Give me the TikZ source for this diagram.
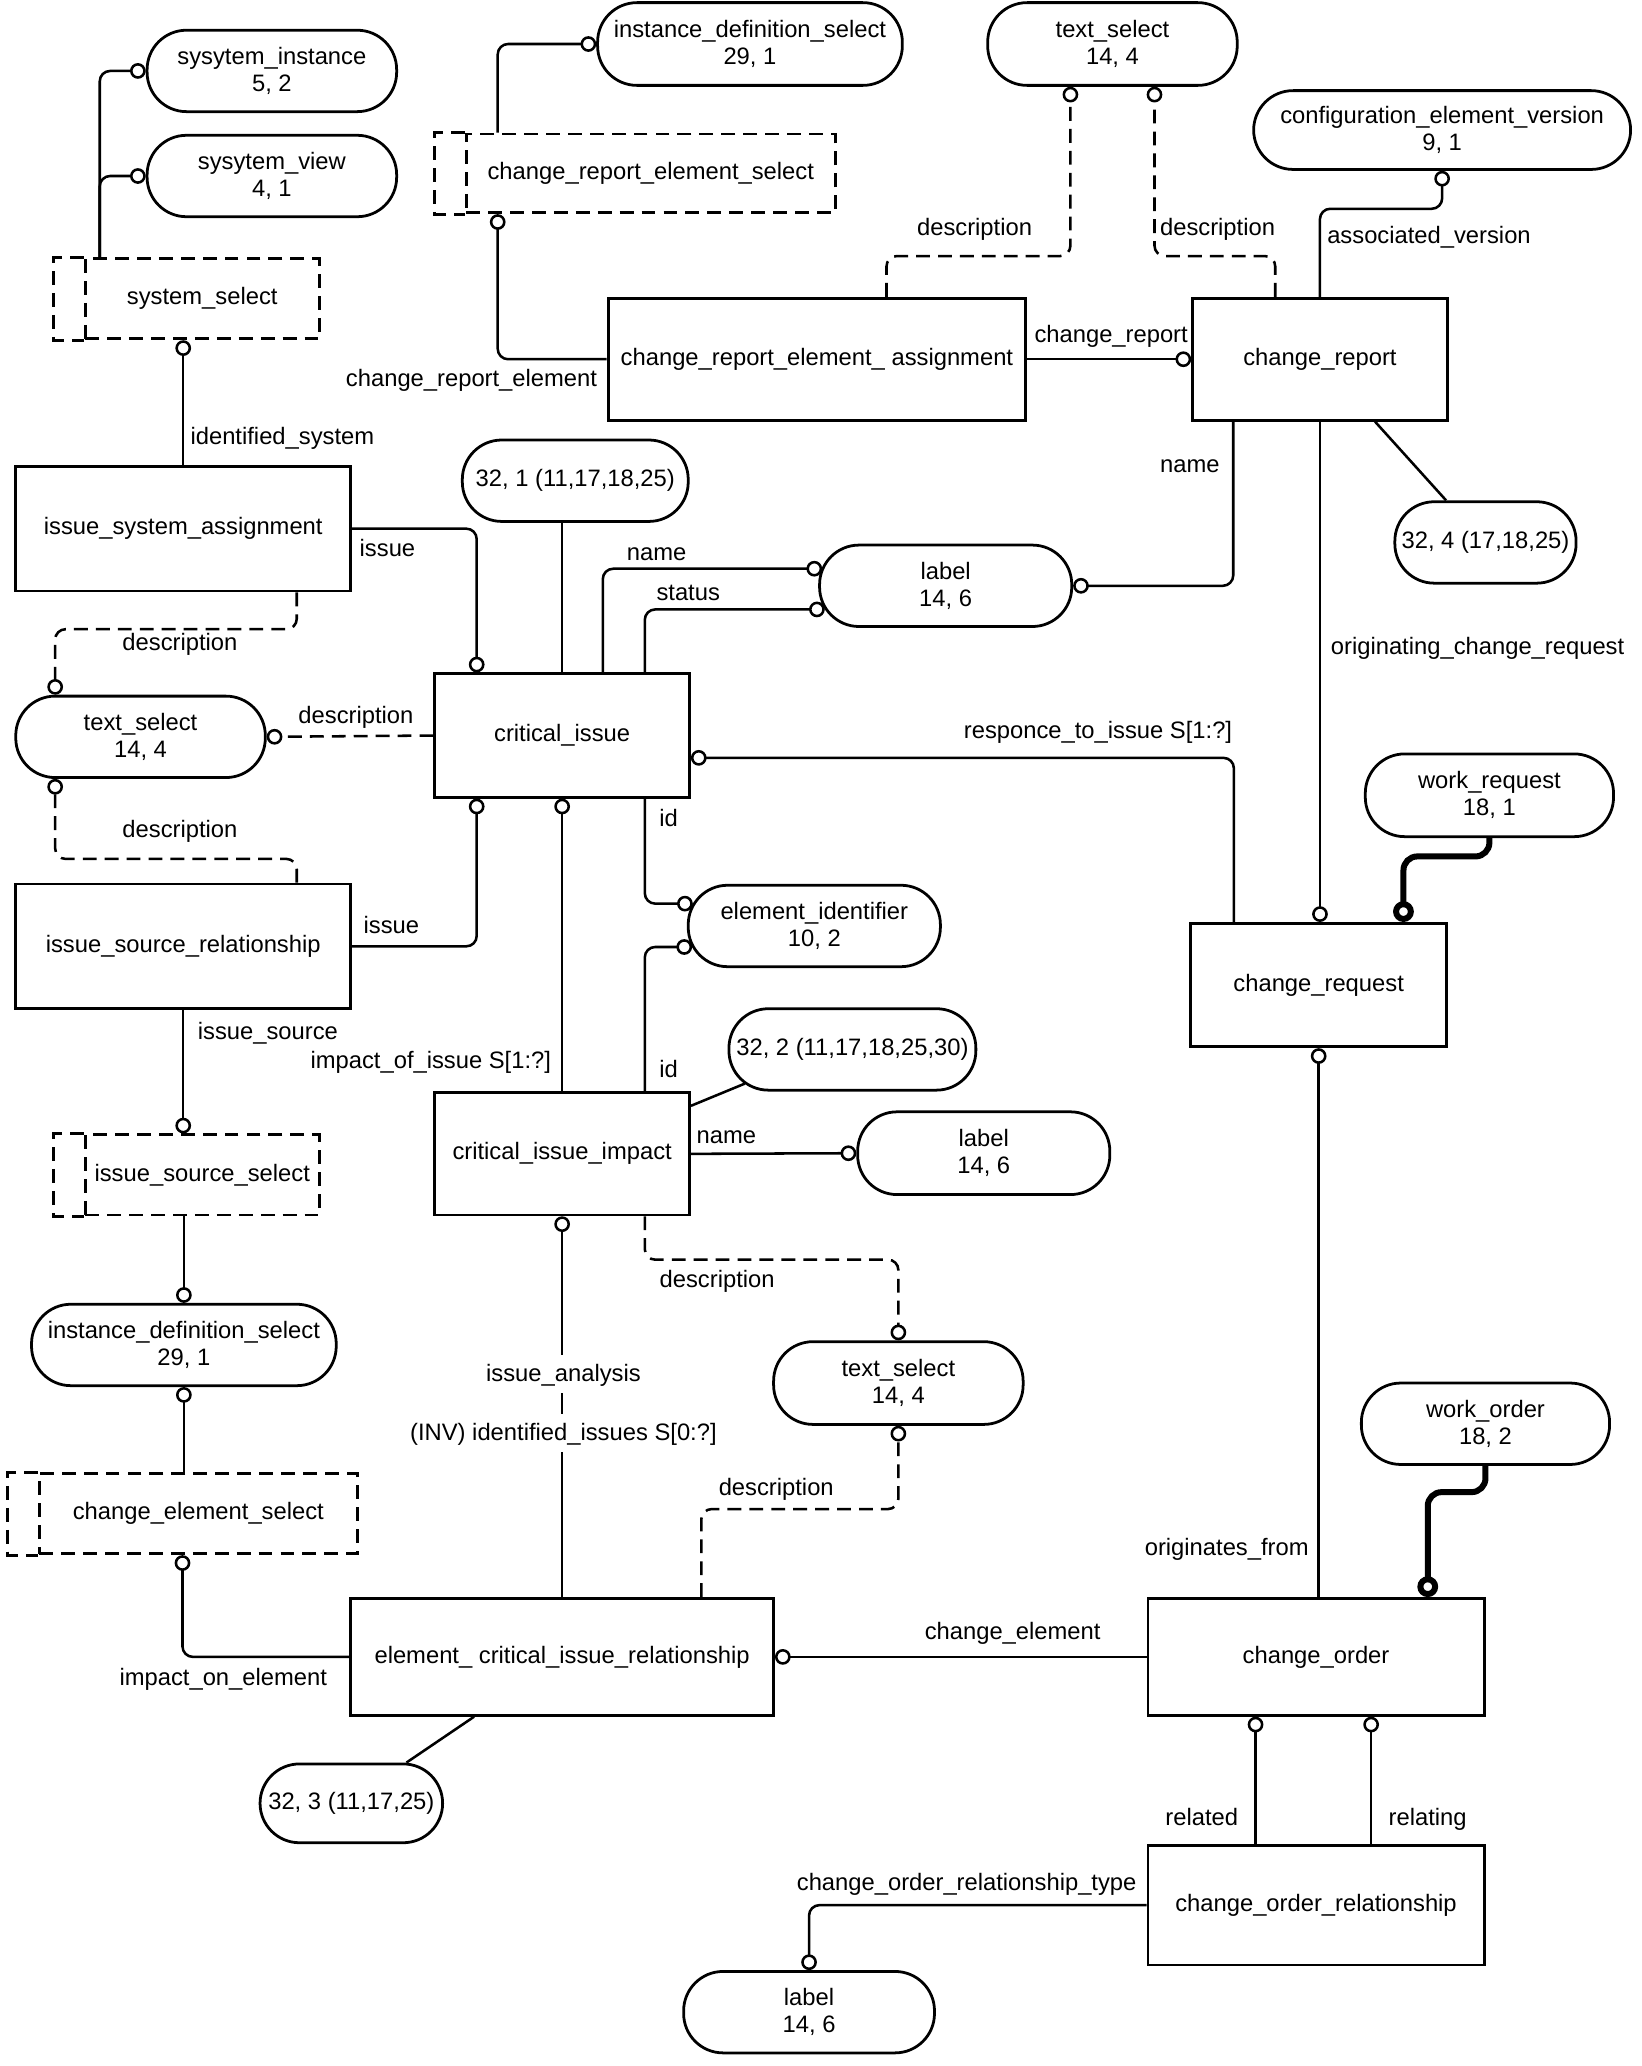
\documentclass[tikz,border=0pt]{standalone}
\usepackage{fontspec}
\setmainfont{Liberation Sans}
\usetikzlibrary{arrows.meta}
\newlength\ux
\setlength\ux{0.02cm}
\tikzset{
  size/.style 2 args={minimum width=#1\ux, minimum height=#2\ux},
  ent/.style={draw, line width=1.2pt, inner sep=0pt, align=center},
  typ/.style={draw, rounded corners=30\ux, line width=1.2pt, inner sep=0pt, align=center},
  sel/.style={draw, line width=1.2pt, dash pattern=on 6pt off 3.5pt, inner sep=0pt},
  selbar/.style={line width=1.2pt, dash pattern=on 6pt off 3.5pt},
  lbl/.style={inner sep=0pt, text height=1.6ex, text depth=0.4ex},
  rel/.style={line width=1.1pt, rounded corners=4.5pt},
  opt/.style={rel, dash pattern=on 6pt off 3.5pt},
  thk/.style={line width=2.6pt, rounded corners=6pt},
  ring/.style={-{Circle[open,length=6.8pt,width=6.8pt]}},
  bigring/.style={-{Circle[open,length=9pt,width=9pt]}},
}
\begin{document}
\begin{tikzpicture}[x=0.02cm,y=-0.02cm,font=\fontsize{10.3}{11.6}\selectfont]
\useasboundingbox (0,0) rectangle (1250,1573);

% entities
\draw (622,273.5) node[ent,size={318}{93}] (crasg) {change\_report\_element\_ assignment};
\draw (1005,273.5) node[ent,size={194}{93}] (crep) {change\_report};
\draw (139.5,402.5) node[ent,size={255}{95}] (isa) {issue\_system\_assignment};
\draw (428,560) node[ent,size={194}{94}] (ci) {critical\_issue};
\draw (139.5,720.5) node[ent,size={255}{95}] (isr) {issue\_source\_relationship};
\draw (428,878.5) node[ent,size={194}{93}] (cii) {critical\_issue\_impact};
\draw (1004,750) node[ent,size={195}{94}] (creq) {change\_request};
\draw (428,1261.5) node[ent,size={322}{89}] (ecir) {element\_ critical\_issue\_relationship};
\draw (1002,1261.5) node[ent,size={256}{89}] (co) {change\_order};
\draw (1002,1450.5) node[ent,size={256}{91}] (cor) {change\_order\_relationship};

% select types
\draw (154,227.5) node[sel,size={178}{61}] (sysel) {system\_select};
\draw (495.5,132) node[sel,size={281}{60}] (crsel) {change\_report\_element\_select};
\draw (154,894.5) node[sel,size={178}{61}] (issel) {issue\_source\_select};
\draw (151,1152.5) node[sel,size={242}{61}] (cesel) {change\_element\_select};
\foreach \n in {sysel,crsel,issel,cesel}
  \draw[selbar] (\n.north west) -- ++(-23\ux,0) -- ([xshift=-23\ux]\n.south west) -- (\n.south west);

% defined types
\draw (207,54) node[typ,size={190}{62}] (sinst) {sysytem\_instance\\5, 2};
\draw (207,134) node[typ,size={190}{62}] (sview) {sysytem\_view\\4, 1};
\draw (571,33.5) node[typ,size={232}{63}] (idsel1) {instance\_definition\_select\\29, 1};
\draw (847,33.5) node[typ,size={190}{63}] (tsel1) {text\_select\\14, 4};
\draw (1098,99) node[typ,size={287}{60}] (cev) {configuration\_element\_version\\9, 1};
\draw (1131,413) node[typ,size={138}{62}] (p324) {32, 4 (17,18,25)};
\draw (438,366) node[typ,size={172}{62}] (p321) {32, 1 (11,17,18,25)};
\draw (720,446) node[typ,size={192}{62}] (lab1) {label\\14, 6};
\draw (107,561) node[typ,size={190}{62}] (tsel2) {text\_select\\14, 4};
\draw (1134,605.5) node[typ,size={189}{63}] (wreq) {work\_request\\18, 1};
\draw (620,705) node[typ,size={192}{62}] (eid) {element\_identifier\\10, 2};
\draw (649,799) node[typ,size={188}{62}] (p322) {32, 2 (11,17,18,25,30)};
\draw (749,878) node[typ,size={192}{63}] (lab2) {label\\14, 6};
\draw (140,1024) node[typ,size={232}{62}] (idsel2) {instance\_definition\_select\\29, 1};
\draw (684,1053) node[typ,size={190}{63}] (tsel3) {text\_select\\14, 4};
\draw (1131,1084) node[typ,size={189}{62}] (word) {work\_order\\18, 2};
\draw (267.5,1373) node[typ,size={139}{60}] (p323) {32, 3 (11,17,25)};
\draw (616,1532) node[typ,size={191}{62}] (lab3) {label\\14, 6};

% relations
\draw[rel,ring] ([xshift=12\ux]sysel.north west) |- (sinst.west);
\draw[rel,ring] ([xshift=12\ux]sysel.north west) |- (sview.west);
\draw[rel,ring] (isa.north) -- (isa.north |- sysel.south);
\draw[rel,ring] ([xshift=25\ux]crsel.north west) |- (idsel1.west);
\draw[rel,ring] (crasg.west) -| ([xshift=25\ux]crsel.south west);
\draw[rel,ring] (crasg.east) -- (crep.west);
\draw[opt,ring] ([xshift=213\ux]crasg.north west) -- ++(0,-31) -| ([xshift=-32\ux]tsel1.south);
\draw[opt,ring] ([xshift=64\ux]crep.north west) -- ++(0,-31) -| ([xshift=32\ux]tsel1.south);
\draw[rel,ring] ([xshift=98\ux]crep.north west) -- ++(0,-67) -| (cev.south);
\draw[rel,ring] ([xshift=32\ux]crep.south west) |- (lab1.east);
\draw[rel,ring] (crep.south) -- (crep.south |- creq.north);
\draw[rel] ([xshift=140\ux]crep.south west) -- ([xshift=-30\ux]p324.north);
\draw[rel] (ci.north) -- (ci.north |- p321.south);
\draw[rel,ring] ([xshift=129\ux]ci.north west) |- ([xshift=3\ux,yshift=13\ux]lab1.west);
\draw[rel,ring] ([xshift=161\ux]ci.north west) |- ([xshift=5\ux,yshift=-18\ux]lab1.west);
\draw[rel,ring] (isa.east) -| ([xshift=33\ux]ci.north west);
\draw[opt,ring] ([xshift=215\ux]isa.south west) -- ++(0,28) -| ([xshift=-65\ux]tsel2.north);
\draw[opt,ring] (ci.west) -- (tsel2.east);
\draw[opt,ring] ([xshift=215\ux]isr.north west) -- ++(0,-18) -| ([xshift=-65\ux]tsel2.south);
\draw[rel,ring] (isr.east) -| ([xshift=33\ux]ci.south west);
\draw[rel,ring] (cii.north) -- (ci.south);
\draw[rel,ring] ([xshift=161\ux]ci.south west) |- ([xshift=4.5\ux,yshift=17\ux]eid.west);
\draw[rel,ring] ([xshift=161\ux]cii.north west) |- ([xshift=4\ux,yshift=-16\ux]eid.west);
\draw[rel,ring] ([xshift=34\ux]creq.north west) |- ([yshift=-17\ux]ci.east);
\draw[thk,bigring] (wreq.south) -- ++(0,14) -| ([xshift=-34\ux]creq.north east);
\draw[rel,ring] (co.north -| creq.south) -- (creq.south);
\draw[rel] ([yshift=-11\ux]cii.north east) -- ([xshift=-82\ux,yshift=6\ux]p322.south);
\draw[rel,ring] (cii.east) -- (lab2.west);
\draw[opt,ring] ([xshift=161\ux]cii.south west) -- ++(0,33) -| (tsel3.north);
\draw[rel,ring] (ecir.north) -- (cii.south);
\draw[opt,ring] ([xshift=268\ux]ecir.north west) -- ++(0,-67) -| (tsel3.south);
\draw[rel,ring] (ecir.west) -| ([xshift=110\ux]cesel.south west);
\draw[rel,ring] (idsel2.south |- cesel.north) -- (idsel2.south);
\draw[rel,ring] (idsel2.north |- issel.south) -- (idsel2.north);
\draw[rel,ring] (isr.south) -- (isr.south |- issel.north);
\draw[rel] ([xshift=95\ux]ecir.south west) -- ([xshift=42\ux]p323.north);
\draw[rel,ring] (co.west) -- (ecir.east);
\draw[thk,bigring] (word.south) -- ++(0,20) -| ([xshift=-44\ux]co.north east);
\draw[rel,ring] ([xshift=83\ux]cor.north west) -- ([xshift=83\ux]co.south west);
\draw[rel,ring] ([xshift=171\ux]cor.north west) -- ([xshift=171\ux]co.south west);
\draw[rel,ring] (cor.west) -| (lab3.north);

% role names
\draw (215,333) node[lbl] (lidsys) {identified\_system};
\draw (359,289) node[lbl] (lcrel) {change\_report\_element};
\draw (846,255) node[lbl] (lcrep) {change\_report};
\draw (742,174) node[lbl] (ldesc1) {description};
\draw (927,174) node[lbl] (ldesc2) {description};
\draw (1088,180) node[lbl] (lassoc) {associated\_version};
\draw (906,354) node[lbl] (lname1) {name};
\draw (1125,493) node[lbl] (lorig) {originating\_change\_request};
\draw (295,418) node[lbl] (lissue1) {issue};
\draw (500,421) node[lbl] (lname2) {name};
\draw (524,452) node[lbl] (lstatus) {status};
\draw (137,490) node[lbl] (ldesc3) {description};
\draw (271,545) node[lbl] (ldesc4) {description};
\draw (137,632) node[lbl] (ldesc5) {description};
\draw (836,557) node[lbl] (lresp) {responce\_to\_issue S[1:?]};
\draw (509,624) node[lbl] (lid1) {id};
\draw (298,705) node[lbl] (lissue2) {issue};
\draw (204,786) node[lbl] (lissrc) {issue\_source};
\draw (328,808) node[lbl] (limpact) {impact\_of\_issue S[1:?]};
\draw (509,815) node[lbl] (lid2) {id};
\draw (553,865) node[lbl] (lname3) {name};
\draw (546,975) node[lbl] (ldesc6) {description};
\draw (429,1046) node[lbl,fill=white,inner xsep=2pt,inner ysep=3pt] (lanal) {issue\_analysis};
\draw (429,1091) node[lbl,fill=white,inner xsep=2pt,inner ysep=3pt] (linv) {(INV) identified\_issues S[0:?]};
\draw (591,1133) node[lbl] (ldesc7) {description};
\draw (170,1278) node[lbl] (limpel) {impact\_on\_element};
\draw (934,1179) node[lbl] (lorigf) {originates\_from};
\draw (771,1243) node[lbl] (lchel) {change\_element};
\draw (915,1384) node[lbl] (lrelated) {related};
\draw (1087,1384) node[lbl] (lrelating) {relating};
\draw (736,1434) node[lbl] (lcort) {change\_order\_relationship\_type};

\end{tikzpicture}
\end{document}
